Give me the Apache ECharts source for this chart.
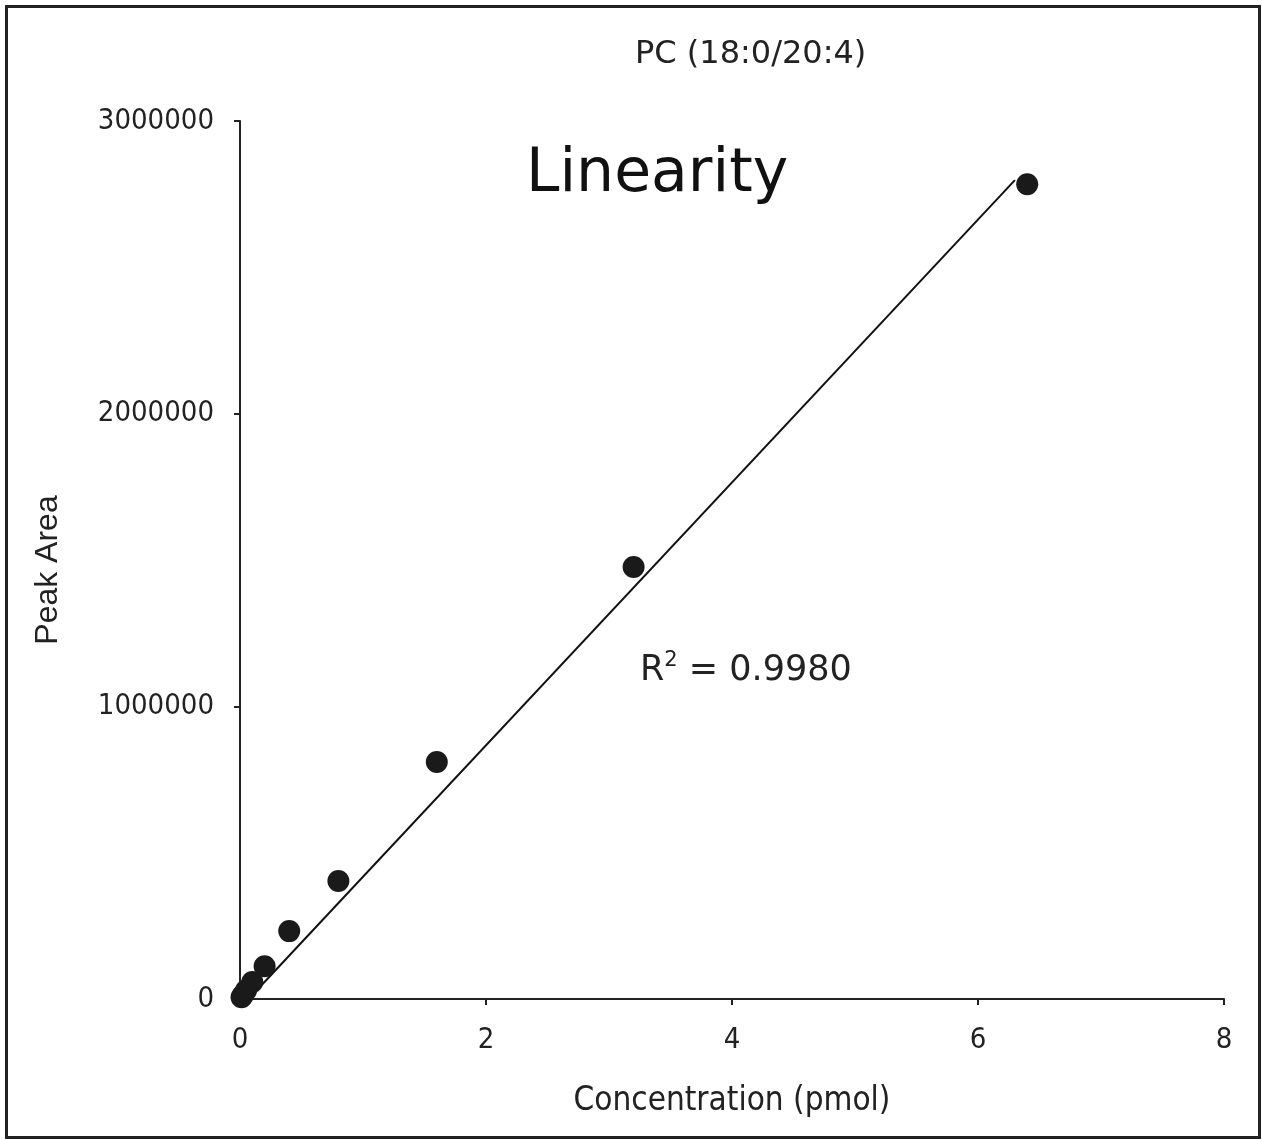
<!DOCTYPE html>
<html>
<head>
<meta charset="utf-8">
<script src="https://cdn.jsdelivr.net/npm/echarts@6/dist/echarts.min.js"></script>
<style>
  html, body { margin: 0; padding: 0; background: #fff; }
  #chart { width: 1262px; height: 1140px; }
</style>
</head>
<body>
<div id="chart"></div>
<script>
// 浓度 (pmol) 和峰面积
var concentration = [0.0125, 0.025, 0.05, 0.1, 0.2, 0.4, 0.8, 1.6, 3.2, 6.4];
var peakArea = [6000, 14000, 30000, 58000, 112000, 232000, 403000, 810000, 1476000, 2784000];

// 趋势线两端
var fitX = [0.07, 6.3];
var fitY = [0, 2798000];

var xTicks = [0, 8, 2];        // min, max, interval
var yTicks = [0, 3000000, 1000000];

var chart = echarts.init(document.getElementById('chart'));

var points = concentration.map(function (c, i) { return [c, peakArea[i]]; });
var fitLine = fitX.map(function (x, i) { return [x, fitY[i]]; });

var font = '"DejaVu Sans", Verdana, sans-serif';
var condensed = '"DejaVu Sans Condensed", "DejaVu Sans", sans-serif';

option = {
    backgroundColor: '#fff',
    animation: false,
    title: {
        text: 'PC (18:0/20:4)',
        left: 630,
        top: 34,
        textStyle: { fontFamily: font, fontSize: 32, fontWeight: 'normal', color: '#222' }
    },
    grid: {
        left: 240,
        right: 38,
        top: 121,
        bottom: 141
    },
    xAxis: {
        type: 'value',
        min: xTicks[0],
        max: xTicks[1],
        interval: xTicks[2],
        name: 'Concentration (pmol)',
        nameLocation: 'middle',
        nameGap: 86,
        nameTextStyle: { fontFamily: condensed, fontSize: 33, color: '#222' },
        axisLine: { show: true, onZero: false, lineStyle: { color: '#222', width: 2 } },
        axisTick: { show: true, length: 6, lineStyle: { color: '#222', width: 2 } },
        axisLabel: { fontFamily: condensed, fontSize: 29, color: '#222', margin: 27 },
        splitLine: { show: false }
    },
    yAxis: {
        type: 'value',
        min: yTicks[0],
        max: yTicks[1],
        interval: yTicks[2],
        name: 'Peak Area',
        nameLocation: 'middle',
        nameGap: 176,
        nameTextStyle: {
            fontFamily: '"Liberation Sans", Arial, sans-serif', fontSize: 32, color: '#222',
            padding: [0, 20, 0, 0]
        },
        axisLine: { show: true, lineStyle: { color: '#222', width: 2 } },
        axisTick: { show: true, length: 6, lineStyle: { color: '#222', width: 2 } },
        axisLabel: {
            fontFamily: condensed, fontSize: 29, color: '#222', margin: 26,
            formatter: function (v) { return String(v); }
        },
        splitLine: { show: false }
    },
    graphic: [
        {
            type: 'rect',
            left: 4, top: 4,
            shape: { width: 1253, height: 1131 },
            style: { fill: 'none', stroke: '#222', lineWidth: 3 },
            silent: true
        },
        {
            type: 'text',
            left: 526, top: 145,
            style: { text: 'Linearity', font: '60px ' + font, fill: '#111' }
        },
        {
            type: 'text',
            left: 640, top: 650,
            style: {
                text: 'R{sup|2} = 0.9980',
                font: '35px ' + font,
                fill: '#222',
                rich: {
                    sup: { fontSize: 21, fontFamily: font, fill: '#222', padding: [0, 0, 20, 0] }
                }
            }
        }
    ],
    series: [
        {
            type: 'line',
            data: fitLine,
            symbol: 'none',
            lineStyle: { color: '#111', width: 2 },
            z: 2
        },
        {
            type: 'scatter',
            data: points,
            symbol: 'circle',
            symbolSize: 22,
            itemStyle: { color: '#1a1a1a', opacity: 1 },
            z: 3
        }
    ]
};

chart.setOption(option);
</script>
</body>
</html>
